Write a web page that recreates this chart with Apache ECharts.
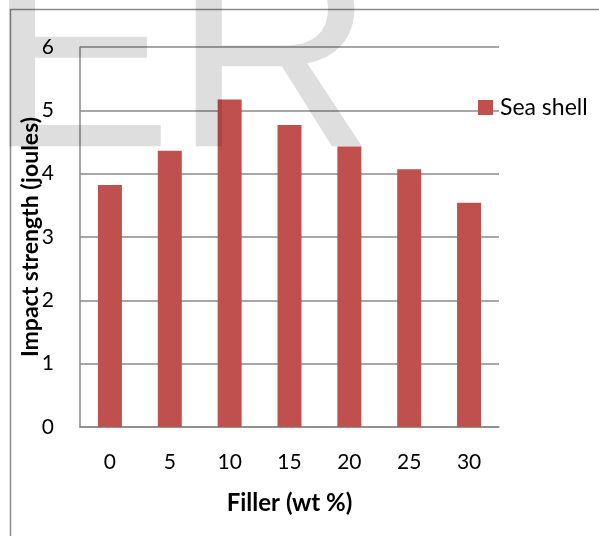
<!DOCTYPE html>
<html>
<head>
<meta charset="utf-8">
<script src="https://cdn.jsdelivr.net/npm/echarts@6/dist/echarts.min.js"></script>
<style>
  html, body { margin: 0; padding: 0; background: #fff; }
  #chart { width: 599px; height: 536px; }
</style>
</head>
<body>
<div id="chart"></div>
<script>
// Filler loading (wt %) and measured impact strength (joules)
const fillerLevels = ['0', '5', '10', '15', '20', '25', '30'];
const seaShellImpact = [3.82, 4.36, 5.17, 4.77, 4.43, 4.07, 3.54];
const seriesName = 'Sea shell';
const yTicks = { min: 0, max: 6, step: 1 };

const FONT = 'Lato, "Open Sans", sans-serif';
const GRID_GRAY = '#8a8a8a';

const chart = echarts.init(document.getElementById('chart'), null, { renderer: 'canvas' });

chart.setOption({
  backgroundColor: '#ffffff',
  animation: false,
  grid: { left: 80, top: 47, right: 100, bottom: 109, containLabel: false },
  legend: {
    data: [seriesName],
    left: 478,
    top: 96,
    padding: 0,
    orient: 'vertical',
    itemWidth: 15,
    itemHeight: 15,
    itemGap: 0,
    icon: 'rect',
    textStyle: { fontFamily: FONT, fontSize: 23, color: '#000', padding: [0, 0, 0, 2] }
  },
  xAxis: {
    type: 'category',
    data: fillerLevels,
    name: 'Filler (wt %)',
    nameLocation: 'middle',
    nameGap: 64,
    nameMoveOverlap: false,
    nameTextStyle: { fontFamily: FONT, fontSize: 24, fontWeight: 'bold', color: '#000' },
    axisLine: { lineStyle: { color: GRID_GRAY, width: 1.5 } },
    axisTick: { show: false },
    axisLabel: { fontFamily: FONT, fontSize: 21, color: '#000', margin: 25 }
  },
  yAxis: {
    type: 'value',
    min: yTicks.min,
    max: yTicks.max,
    interval: yTicks.step,
    name: 'Impact strength (joules)',
    nameLocation: 'middle',
    nameGap: 38,
    nameMoveOverlap: false,
    nameTextStyle: { fontFamily: FONT, fontSize: 23, fontWeight: 'bold', color: '#000' },
    axisLine: { show: true, lineStyle: { color: GRID_GRAY, width: 1.5 } },
    axisTick: { show: false },
    splitLine: { lineStyle: { color: GRID_GRAY, width: 1.5 } },
    axisLabel: { fontFamily: FONT, fontSize: 21, color: '#000', margin: 26 }
  },
  series: [{
    name: seriesName,
    type: 'bar',
    data: seaShellImpact,
    barWidth: 24,
    itemStyle: { color: '#C0504D' }
  }],
  graphic: [
    {
      // outer frame of the chart area
      type: 'rect',
      silent: true,
      z: 0,
      shape: { x: 10.5, y: 9.5, width: 800, height: 800 },
      style: { fill: 'none', stroke: GRID_GRAY, lineWidth: 1.5 }
    },
    {
      // translucent "ER" overlay lettering
      type: 'text',
      silent: true,
      z: 100,
      style: {
        text: 'ER',
        x: -14,
        y: 209,
        font: '280px "Liberation Sans", Arial, sans-serif',
        fill: 'rgba(0,0,0,0.13)',
        verticalAlign: 'bottom'
      }
    }
  ]
});
</script>
</body>
</html>
